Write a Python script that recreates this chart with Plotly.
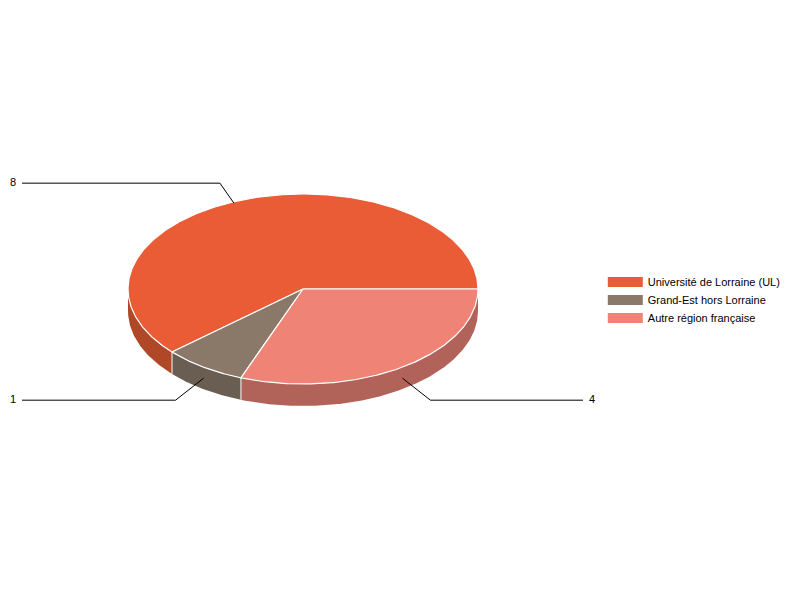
import numpy as np
import plotly.graph_objects as go

categories = ['Université de Lorraine (UL)', 'Grand-Est hors Lorraine', 'Autre région française']
valeurs = [8, 1, 4]
couleurs = ['#E95C35', '#8A7869', '#EE8376']
couleurs_cote = ['#B04828', '#6A5D52', '#B1635A']

# geometrie du camembert, en pixels de la page
CX, CY = 303, 289
RX, RY = 175, 95
EPAISSEUR = 22

# la page garde une marge de 8 px autour de la figure
MARGE_PAGE = 8

# decalages des traits de rappel : ancre (dx, dy), coude (dx, dy), fin en x
rappels = [
    {'ancre': (-7, 3), 'coude': (-14, -20), 'fin': 22, 'pos': 'middle left', 'texte_dx': -6},
    {'ancre': (0, 11), 'coude': (-28, 22), 'fin': 22, 'pos': 'middle left', 'texte_dx': -6},
    {'ancre': (0, 11), 'coude': (28, 22), 'fin': 583, 'pos': 'middle right', 'texte_dx': 6},
]

# lignes de la legende, y en pixels de la page
legende_y = [282, 300, 318]


def point(angle):
    # angle en degres, sens trigo, 0 a droite
    a = np.radians(angle)
    return CX + RX * np.cos(a), CY - RY * np.sin(a)


def arc(debut, fin):
    angles = np.linspace(debut, fin, max(int(abs(fin - debut)) * 2, 2))
    return point(angles)


total = sum(valeurs)
bornes = np.cumsum([0] + valeurs) / total * 360

fig = go.Figure()

# cotes visibles (moitie basse seulement)
for i in range(len(valeurs)):
    debut = max(bornes[i], 180)
    fin = bornes[i + 1]
    if fin <= debut:
        continue
    x, y = arc(debut, fin)
    fig.add_trace(go.Scatter(
        x=np.concatenate([x, x[::-1]]),
        y=np.concatenate([y, y[::-1] + EPAISSEUR]),
        mode='lines', fill='toself', fillcolor=couleurs_cote[i],
        line=dict(width=0), showlegend=False, hoverinfo='skip',
    ))

# separations blanches sur le cote
for b in bornes[1:-1]:
    if b > 180:
        x, y = point(b)
        fig.add_trace(go.Scatter(
            x=[x, x], y=[y, y + EPAISSEUR], mode='lines',
            line=dict(color='rgba(255,255,255,0.8)', width=1.2),
            showlegend=False, hoverinfo='skip',
        ))

# dessus
for i in range(len(valeurs)):
    x, y = arc(bornes[i], bornes[i + 1])
    fig.add_trace(go.Scatter(
        x=np.concatenate([[CX], x, [CX]]),
        y=np.concatenate([[CY], y, [CY]]),
        mode='lines', fill='toself', fillcolor=couleurs[i],
        line=dict(color='white', width=1.2),
        showlegend=False, hoverinfo='skip',
    ))

# traits de rappel et valeurs
for i, r in enumerate(rappels):
    ax, ay = point((bornes[i] + bornes[i + 1]) / 2)
    ax, ay = ax + r['ancre'][0], ay + r['ancre'][1]
    cx, cy = ax + r['coude'][0], ay + r['coude'][1]
    fig.add_trace(go.Scatter(
        x=[r['fin'], cx, ax], y=[cy, cy, ay], mode='lines',
        line=dict(color='#000000', width=1),
        showlegend=False, hoverinfo='skip',
    ))
    fig.add_trace(go.Scatter(
        x=[r['fin'] + r['texte_dx']], y=[cy], mode='text',
        text=[str(valeurs[i])], textposition=r['pos'],
        textfont=dict(family='Liberation Sans', size=11, color='#000000'),
        showlegend=False, hoverinfo='skip',
    ))

# legende : une par ligne pour garder l'ecart de 18 px
legendes = {}
for i, nom in enumerate(categories):
    cle = 'legend' if i == 0 else f'legend{i + 1}'
    fig.add_trace(go.Scatter(
        x=[None], y=[None], mode='lines', name=nom, legend=cle,
        line=dict(color=couleurs[i], width=10),
    ))
    legendes[cle] = dict(
        x=0.7435, y=1 - (legende_y[i] - MARGE_PAGE) / 600,
        xanchor='left', yanchor='middle',
        itemwidth=35, bgcolor='rgba(0,0,0,0)',
        font=dict(family='Liberation Sans', size=11),
    )

fig.update_layout(
    width=800, height=600,
    margin=dict(l=0, r=0, t=0, b=0),
    paper_bgcolor='white', plot_bgcolor='white',
    xaxis=dict(range=[MARGE_PAGE, 800 + MARGE_PAGE], visible=False, fixedrange=True),
    yaxis=dict(range=[600 + MARGE_PAGE, MARGE_PAGE], visible=False, fixedrange=True),
    font=dict(family='Liberation Sans', size=11, color='#000000'),
    **legendes,
)

fig.write_html("out.html")
